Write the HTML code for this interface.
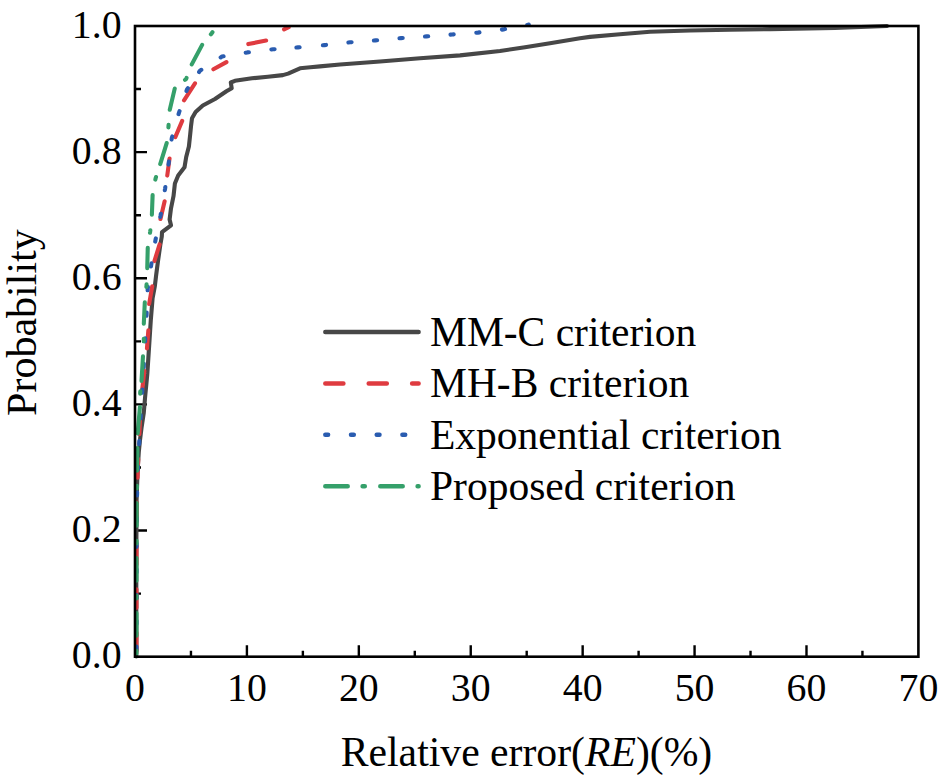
<!DOCTYPE html>
<html><head><meta charset="utf-8"><style>
html,body{margin:0;padding:0;background:#fff;}
svg{display:block;font-family:"Liberation Serif",serif;}
</style></head><body>
<svg width="940" height="778" viewBox="0 0 940 778">
<rect width="940" height="778" fill="#fff"/>
<path d="M190.96 656.70V650.70 M246.91 656.70V645.20 M302.87 656.70V650.70 M358.83 656.70V645.20 M414.79 656.70V650.70 M470.74 656.70V645.20 M526.70 656.70V650.70 M582.66 656.70V645.20 M638.61 656.70V650.70 M694.57 656.70V645.20 M750.53 656.70V650.70 M806.49 656.70V645.20 M862.44 656.70V650.70 M135.00 593.63H141.00 M135.00 530.56H147.00 M135.00 467.49H141.00 M135.00 404.42H147.00 M135.00 341.35H141.00 M135.00 278.28H147.00 M135.00 215.21H141.00 M135.00 152.14H147.00 M135.00 89.07H141.00" stroke="#000" stroke-width="2.4" fill="none"/><g font-size="39.8"><text x="135.00" y="701" text-anchor="middle">0</text><text x="246.91" y="701" text-anchor="middle">10</text><text x="358.83" y="701" text-anchor="middle">20</text><text x="470.74" y="701" text-anchor="middle">30</text><text x="582.66" y="701" text-anchor="middle">40</text><text x="694.57" y="701" text-anchor="middle">50</text><text x="806.49" y="701" text-anchor="middle">60</text><text x="918.40" y="701" text-anchor="middle">70</text><text x="121.6" y="668.30" text-anchor="end">0.0</text><text x="121.6" y="542.16" text-anchor="end">0.2</text><text x="121.6" y="416.02" text-anchor="end">0.4</text><text x="121.6" y="289.88" text-anchor="end">0.6</text><text x="121.6" y="163.74" text-anchor="end">0.8</text><text x="121.6" y="37.60" text-anchor="end">1.0</text></g><text font-size="41.7" x="526.5" y="765.7" text-anchor="middle">Relative error(<tspan font-style="italic">RE</tspan>)(%)</text><text font-size="42" transform="translate(35.6 322.6) rotate(-90)" text-anchor="middle">Probability</text>
<g fill="none" stroke-linejoin="round" stroke-linecap="round">
<path d="M136.30 656.50 L136.30 560.00 L136.60 500.00 L137.60 470.00 L138.80 452.00 L140.00 440.00 L141.50 428.00 L143.80 412.60 L145.10 397.20 L147.30 374.00 L148.80 351.00 L150.80 320.00 L152.60 298.00 L154.80 286.40 L156.20 274.80 L158.00 261.00 L160.30 245.00 L161.80 236.50 L162.00 232.20 L171.00 225.30 L169.60 219.60 L171.00 208.30 L173.50 196.20 L174.90 183.50 L178.20 175.40 L184.50 167.30 L186.20 157.00 L188.90 146.50 L190.20 134.40 L191.10 125.40 L192.00 118.20 L195.60 112.00 L202.80 105.50 L215.00 99.00 L226.40 91.30 L231.70 88.20 L230.80 82.50 L234.90 80.80 L251.90 78.30 L267.90 76.70 L282.80 75.10 L288.10 73.60 L300.00 68.30 L310.40 67.30 L320.00 66.40 L340.00 64.50 L380.00 61.50 L420.00 58.20 L460.00 55.40 L500.00 51.00 L525.00 47.20 L550.00 43.20 L565.00 40.80 L580.00 38.30 L590.00 36.90 L620.00 34.20 L650.00 31.80 L690.00 30.50 L730.00 29.80 L770.00 29.10 L835.00 28.00 L887.00 26.00" stroke="#474747" stroke-width="4.1"/>
<path d="M136.50 651.23 L136.50 632.73 M136.50 607.83 L136.50 589.33 M136.50 564.43 L136.50 560.00 L136.59 545.93 M136.76 521.03 L136.88 502.53 M137.60 477.64 L138.00 465.00 L138.26 459.15 M139.37 434.28 L140.00 420.00 L140.28 415.80 M142.04 390.96 L144.36 371.04 M146.96 348.46 L148.34 330.34 M149.15 303.98 L152.25 286.22 M154.41 261.04 L159.59 244.46 M160.47 219.00 L164.63 201.30 M167.27 175.57 L169.53 158.53 M175.30 137.11 L182.20 120.89 M184.01 100.28 L194.99 83.32 M213.39 69.31 L226.41 62.09 M248.31 44.09 L266.09 40.51 M284.05 29.41 L288.65 27.19" stroke="#df3b40" stroke-width="4.1"/>
<path d="M136.50 649.64 L136.50 646.44 M136.50 623.94 L136.50 620.74 M136.50 598.24 L136.50 595.04 M136.50 572.54 L136.50 569.34 M136.59 546.84 L136.61 543.64 M136.76 521.14 L136.78 517.94 M137.04 495.44 L137.14 492.24 M137.85 469.75 L137.95 466.55 M139.16 444.09 L139.34 440.89 M140.59 418.43 L140.79 415.23 M142.13 392.77 L142.33 389.58 M143.66 367.12 L143.84 363.92 M145.09 341.46 L145.26 338.26 M146.51 315.80 L146.60 314.20 L146.67 312.60 M147.63 290.30 L147.70 288.70 L147.93 287.12 M150.97 266.48 L151.20 264.90 L151.47 263.32 M155.23 241.58 L155.50 240.00 L155.82 238.43 M160.28 216.87 L160.60 215.30 L160.87 213.72 M164.83 190.18 L165.10 188.60 L165.32 187.02 M168.48 164.58 L168.70 163.00 L168.90 161.41 M171.60 139.59 L171.80 138.00 L172.24 136.46 M178.56 114.14 L179.00 112.60 L179.52 111.09 M186.48 91.01 L187.00 89.50 L187.91 88.18 M199.09 72.02 L200.00 70.70 L201.35 69.84 M220.65 57.46 L222.00 56.60 L223.58 56.34 M245.72 52.66 L247.30 52.40 L248.89 52.21 M271.41 49.49 L273.00 49.30 L274.60 49.18 M296.40 47.52 L298.00 47.40 L299.59 47.26 M322.91 45.24 L324.50 45.10 L326.09 44.93 M348.41 42.47 L350.00 42.30 L351.60 42.18 M373.90 40.52 L375.50 40.40 L377.09 40.26 M399.51 38.24 L401.10 38.10 L402.70 37.99 M425.00 36.51 L426.60 36.40 L428.20 36.28 M450.50 34.62 L452.10 34.50 L453.70 34.38 M476.30 32.72 L477.90 32.60 L479.49 32.40 M501.91 29.60 L503.50 29.40 L505.07 29.10 M527.23 24.90 L528.80 24.60 L528.80 24.60" stroke="#2a5cb0" stroke-width="4.1"/>
<path d="M136.50 653.44 L136.50 650.84 M136.50 635.74 L136.50 612.94 M136.50 598.44 L136.50 595.84 M136.50 580.74 L136.50 560.00 L136.51 557.94 M136.58 543.45 L136.60 540.85 M136.67 525.75 L136.79 502.95 M136.86 488.45 L136.87 485.85 M137.02 470.75 L137.33 447.95 M137.67 433.46 L139.93 407.04 M140.19 393.80 L140.20 392.50 L140.36 391.21 M141.52 380.95 L142.98 356.35 M143.74 341.30 L143.80 340.00 L143.79 338.70 M143.80 323.75 L144.80 302.25 M146.36 286.89 L146.50 285.60 L146.56 284.30 M147.25 268.15 L147.75 247.85 M149.98 232.78 L150.20 231.50 L150.34 230.21 M151.88 214.75 L152.62 195.15 M155.35 179.58 L155.60 178.30 L156.00 177.06 M160.21 164.04 L166.69 143.06 M168.40 127.40 L168.50 126.10 L168.57 124.80 M169.77 109.70 L174.73 88.60 M185.03 79.84 L186.10 79.10 L186.55 77.88 M191.76 64.39 L202.14 44.91 M210.84 34.28 L211.70 33.30 L212.45 32.24" stroke="#35a06a" stroke-width="4.1"/>
</g>
<rect x="135.0" y="26.0" width="783.4" height="630.7" fill="none" stroke="#000" stroke-width="2.6"/>

<g fill="none" stroke-width="4.5" stroke-linecap="round">
<path d="M325.3 332H418.6" stroke="#474747"/>
<path d="M325.3 383.4H418.6" stroke="#df3b40" stroke-dasharray="18.1 25.3"/>
<path d="M325.3 434.8H418.6" stroke="#2a5cb0" stroke-dasharray="2.8 22.9"/>
<path d="M325.3 486.3H418.6" stroke="#35a06a" stroke-dasharray="22.4 14.9 2.2 15.5"/>
</g>
<g font-size="41.5">
<text x="430" y="345.5">MM-C criterion</text>
<text x="430" y="397">MH-B criterion</text>
<text x="430" y="448.5">Exponential criterion</text>
<text x="430" y="500">Proposed criterion</text>
</g>

</svg>
</body></html>
